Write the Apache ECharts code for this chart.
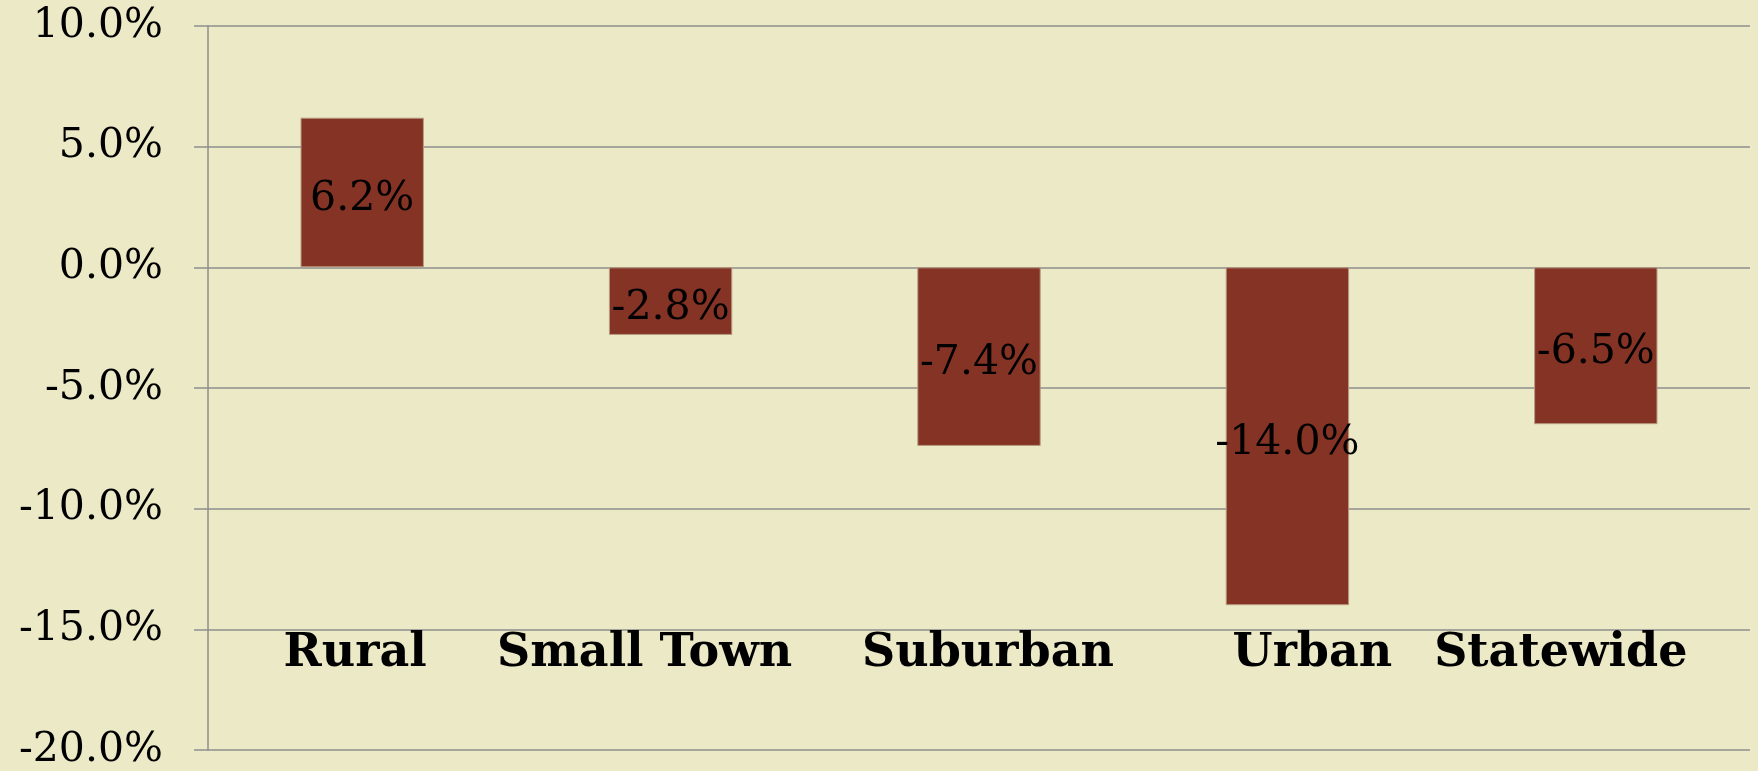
<!DOCTYPE html>
<html>
<head>
<meta charset="utf-8">
<script src="https://cdn.jsdelivr.net/npm/echarts@6/dist/echarts.min.js"></script>
<style>
html,body{margin:0;padding:0;background:#ECE9C7;}
#chart{width:1758px;height:771px;}
</style>
</head>
<body>
<div id="chart"></div>
<script>
const categories = ["Rural", "Small Town", "Suburban", "Urban", "Statewide"];
const values = [6.2, -2.8, -7.4, -14.0, -6.5];
const yMin = -20, yMax = 10, yStep = 5;

// horizontal nudge of each category label (px, style only)
const labelNudge = [-7, -26, 9, 25, -35];

const chart = echarts.init(document.getElementById('chart'));
chart.setOption({
  backgroundColor: '#ECE9C7',
  animation: false,
  grid: { left: 208, right: 8, top: 26, bottom: 21, containLabel: false },
  xAxis: {
    type: 'category',
    data: categories.map((c, i) => ({
      value: c,
      textStyle: {
        verticalAlign: 'middle',
        padding: labelNudge[i] >= 0 ? [0, 0, 0, 2 * labelNudge[i]] : [0, -2 * labelNudge[i], 0, 0]
      }
    })),
    position: 'bottom',
    axisLine: { show: false },
    axisTick: { show: false },
    axisLabel: {
      interval: 0,
      hideOverlap: false,
      margin: -96,
      verticalAlign: 'middle',
      color: '#000',
      fontFamily: 'DejaVu Serif',
      fontWeight: 'bold',
      fontSize: 46
    }
  },
  yAxis: {
    type: 'value',
    min: yMin, max: yMax, interval: yStep,
    axisLine: { show: true, onZero: false, lineStyle: { color: '#8e8e8e', width: 1.5 } },
    axisTick: { show: true, inside: false, length: 14, lineStyle: { color: '#8e8e8e', width: 1.5 } },
    splitLine: { show: true, lineStyle: { color: '#8e8e8e', width: 1.5 } },
    axisLabel: {
      margin: 45,
      color: '#000',
      fontFamily: 'DejaVu Serif',
      fontSize: 41,
      formatter: v => v.toFixed(1) + '%'
    }
  },
  series: [{
    type: 'bar',
    data: values,
    barWidth: '40%',
    itemStyle: { color: '#843324', borderColor: '#b79a80', borderWidth: 1 },
    label: {
      show: true,
      position: 'inside',
      offset: [0, 7],
      color: '#000',
      fontFamily: 'DejaVu Serif',
      fontSize: 41,
      formatter: p => p.value.toFixed(1) + '%'
    }
  }]
});
</script>
</body>
</html>
